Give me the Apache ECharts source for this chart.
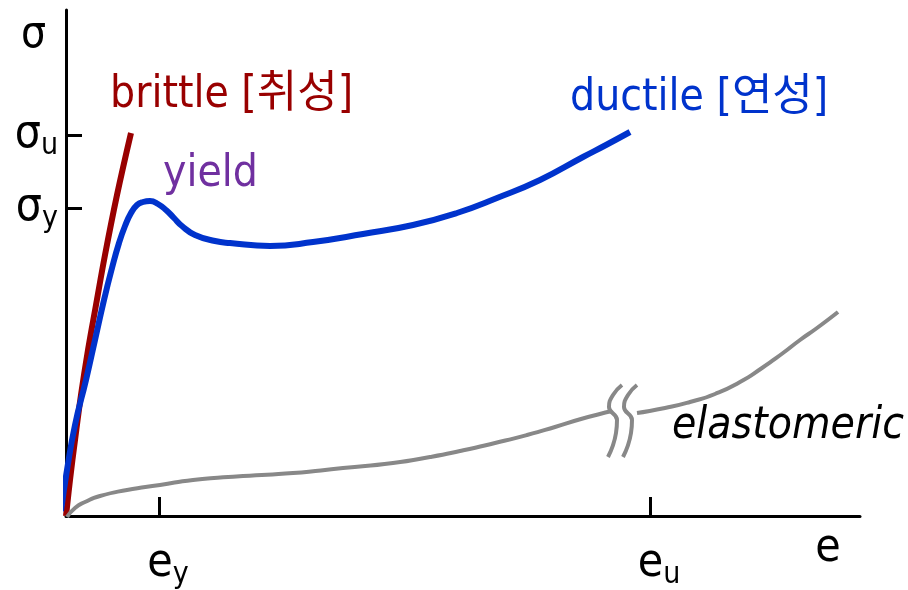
<!DOCTYPE html>
<html>
<head>
<meta charset="utf-8">
<script src="https://cdn.jsdelivr.net/npm/echarts@6/dist/echarts.min.js"></script>
<style>
  html, body { margin: 0; padding: 0; background: #fff; }
  #main { width: 908px; height: 590px; }
</style>
</head>
<body>
<div id="main"></div>
<script>
// strain / stress in arbitrary units (origin at the axis corner)
var strainMax = 794;
var stressMax = 506;

var stressTicks = [308, 381];
var stressTickNames = ['y', 'u'];
var strainTicks = [93, 584];
var strainTickNames = ['y', 'u'];

var brittle = [[0, 0], [4, 36], [9, 76], [15, 121], [22, 166], [30, 211], [39, 261], [51, 321], [65, 383]];

var ductile = [[-5, 5], [1, 46], [9, 91], [20, 136], [29, 176], [38, 216], [46, 248], [53, 273],
  [59, 290], [65, 303], [71, 311], [77, 314], [84, 315], [92, 312], [100, 306], [108, 298],
  [116, 290], [129, 281], [149, 275], [164, 273], [204, 270], [247, 274], [297, 282],
  [347, 291], [391, 303], [431, 318], [474, 336], [517, 359], [540, 371], [564, 384]];

var elastomeric = [[1, -1], [9, 8], [19, 14], [34, 20], [61, 26], [94, 31], [127, 36], [177, 40],
  [227, 43], [277, 48], [327, 53], [364, 59], [394, 65], [429, 73], [461, 81], [489, 89],
  [515, 97], [546, 105], null, [571, 103], [599, 108], [624, 114], [649, 122], [674, 134],
  [696, 148], [717, 163], [734, 176], [751, 188], [772, 204]];

var breakLeft = [[556, 131], [547, 121], [543, 109], [551, 96], [550, 83], [542, 59]];
var breakRight = [[571, 131], [562, 121], [558, 109], [566, 96], [565, 83], [557, 59]];

var notes = [
  { text: 'brittle [취성]', pos: [44, 420], color: '#990000', italic: false },
  { text: 'yield', pos: [97, 341], color: '#7030a0', italic: false },
  { text: 'ductile [연성]', pos: [504, 417], color: '#0033cc', italic: false },
  { text: 'elastomeric', pos: [606, 89], color: '#000000', italic: true }
];

var font = '"DejaVu Sans Condensed", "DejaVu Sans", "Noto Sans CJK KR", sans-serif';

var chart = echarts.init(document.getElementById('main'));

var option = {
  animation: false,
  grid: { left: 66, right: 48, top: 10, bottom: 74 },
  xAxis: {
    type: 'value', min: 0, max: strainMax,
    name: 'e', nameLocation: 'end', nameGap: -32,
    nameTextStyle: { fontFamily: font, fontSize: 46, color: '#000', align: 'center', verticalAlign: 'top', padding: [10, 0, 0, 0] },
    axisLine: { show: true, lineStyle: { color: '#000', width: 3 } },
    axisTick: { show: true, inside: true, length: 19, customValues: strainTicks, lineStyle: { color: '#000', width: 3 } },
    axisLabel: {
      customValues: strainTicks, margin: 22, color: '#000',
      formatter: function (v) {
        return '{e|e}{s|' + strainTickNames[strainTicks.indexOf(v)] + '}';
      },
      rich: {
        e: { fontFamily: font, fontSize: 46, color: '#000', padding: [0, 0, 0, 18] },
        s: { fontFamily: font, fontSize: 30, color: '#000', padding: [22, 0, 0, 0] }
      }
    },
    splitLine: { show: false }
  },
  yAxis: {
    type: 'value', min: 0, max: stressMax,
    name: 'σ', nameLocation: 'end', nameGap: -4,
    nameTextStyle: { fontFamily: font, fontSize: 44, color: '#000', align: 'right', verticalAlign: 'top', padding: [0, 20, 0, 0] },
    axisLine: { show: true, lineStyle: { color: '#000', width: 3 } },
    axisTick: { show: true, inside: true, length: 16, customValues: stressTicks, lineStyle: { color: '#000', width: 3 } },
    axisLabel: {
      customValues: stressTicks, margin: 8, color: '#000',
      formatter: function (v) {
        return '{g|σ}{s|' + stressTickNames[stressTicks.indexOf(v)] + '}';
      },
      rich: {
        g: { fontFamily: font, fontSize: 46, color: '#000' },
        s: { fontFamily: font, fontSize: 30, color: '#000', padding: [22, 0, 0, 0] }
      }
    },
    splitLine: { show: false }
  },
  series: [
    {
      name: 'brittle', type: 'line', data: brittle, smooth: 0.4, symbol: 'none', clip: false,
      lineStyle: { color: '#990000', width: 6 }
    },
    {
      name: 'ductile', type: 'line', data: ductile, smooth: 0.5, symbol: 'none', clip: false,
      lineStyle: { color: '#0033cc', width: 6 }
    },
    {
      name: 'elastomeric', type: 'line', data: elastomeric, smooth: 0.6, symbol: 'none', clip: false,
      connectNulls: false, lineStyle: { color: '#888888', width: 4 }
    },
    {
      name: 'break1', type: 'line', data: breakLeft, smooth: 0.5, symbol: 'none', clip: false,
      lineStyle: { color: '#888888', width: 4 }
    },
    {
      name: 'break2', type: 'line', data: breakRight, smooth: 0.5, symbol: 'none', clip: false,
      lineStyle: { color: '#888888', width: 4 }
    },
    {
      name: 'notes', type: 'scatter', symbolSize: 0, silent: true, clip: false,
      itemStyle: { opacity: 1 },
      data: notes.map(function (n) {
        return {
          value: n.pos,
          label: {
            show: true, formatter: n.text, position: [0, 0], align: 'left', verticalAlign: 'middle',
            fontFamily: font, fontSize: 44, color: n.color, opacity: 1,
            fontStyle: n.italic ? 'italic' : 'normal'
          }
        };
      })
    }
  ]
};

chart.setOption(option);
</script>
</body>
</html>
